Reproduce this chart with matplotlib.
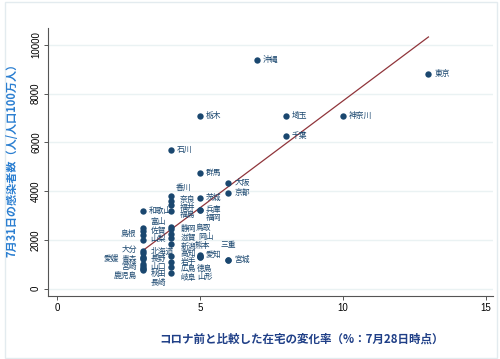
import matplotlib
matplotlib.use("Agg")
import matplotlib.pyplot as plt
from matplotlib.patches import Rectangle

# data
names = ["東京", "神奈川", "埼玉", "千葉", "沖縄",
         "大阪", "京都", "宮城", "三重",
         "栃木", "群馬", "茨城", "兵庫", "福岡", "熊本", "愛知", "徳島", "山形",
         "石川", "香川", "奈良", "福井", "福島", "静岡", "鳥取", "滋賀", "岡山",
         "新潟", "高知", "岩手", "広島", "岐阜",
         "和歌山", "富山", "島根", "佐賀", "山梨", "大分", "北海道", "青森",
         "愛媛", "長野", "宮崎", "山口", "鹿児島", "秋田", "長崎"]
home_change = [13, 10, 8, 8, 7,
               6, 6, 6, 6,
               5, 5, 5, 5, 5, 5, 5, 5, 5,
               4, 4, 4, 4, 4, 4, 4, 4, 4,
               4, 4, 4, 4, 4,
               3, 3, 3, 3, 3, 3, 3, 3,
               3, 3, 3, 3, 3, 3, 3]
cases = [8800, 7100, 7100, 6250, 9400,
         4330, 3920, 1180, 1180,
         7080, 4750, 3730, 3240, 3240, 1400, 1350, 1300, 1300,
         5700, 3800, 3600, 3450, 3200, 2550, 2450, 2250, 2100,
         1850, 1350, 1100, 880, 630,
         3200, 2500, 2350, 2200, 2000, 1550, 1480, 1300,
         1250, 1200, 1000, 950, 850, 800, 780]
# fitted line end points
fit_x = [3, 13]
fit_y = [1560, 10330]

# label placement (pixels: dx, dy up, alignment); default is right of the dot
label_pos = {
    "福岡": (6, -8, "left"), "熊本": (3, 9, "center"), "徳島": (-3, -12, "left"),
    "山形": (-3, -20, "left"), "三重": (0, 15, "center"),
    "香川": (4, 8, "left"), "奈良": (9, 1, "left"), "福井": (9, -3, "left"),
    "福島": (9, -4, "left"), "静岡": (9, -2, "left"), "鳥取": (24, 1, "left"),
    "滋賀": (9, -4, "left"), "岡山": (27, 1, "left"), "新潟": (9, -3, "left"),
    "高知": (9, 2, "left"), "岩手": (9, 0, "left"), "広島": (9, -2, "left"),
    "岐阜": (9, -5, "left"),
    "富山": (8, 6, "left"), "島根": (-7, -3, "right"), "佐賀": (8, 4, "left"),
    "山梨": (8, 1, "left"), "大分": (-6, 1, "right"), "北海道": (8, 1, "left"),
    "青森": (-6, -3, "right"), "愛媛": (-24, -2, "right"), "長野": (8, 0, "left"),
    "宮崎": (-6, -3, "right"), "山口": (8, -1, "left"), "鹿児島": (-6, -8, "right"),
    "秋田": (8, -5, "left"), "長崎": (8, -13, "left"),
}

navy = "#1a476f"
jp = ["Noto Sans CJK JP", "DejaVu Sans"]

fig = plt.figure(figsize=(5, 3.59), dpi=100)
ax = fig.add_axes([0.096, 0.175, 0.89, 0.747])

ax.plot(fit_x, fit_y, color="#90353b", lw=0.9, zorder=2)
ax.scatter(home_change, cases, s=21, color=navy, zorder=3, linewidths=0)

for n, x, y in zip(names, home_change, cases):
    dx, dy, ha = label_pos.get(n, (6, 0, "left"))
    ax.annotate(n, (x, y), xytext=(dx * 0.72, dy * 0.72), textcoords="offset points",
                ha=ha, va="center", fontsize=5.6, color=navy, family=jp, zorder=4)

ax.set_xlim(-0.315, 15.26)
ax.set_ylim(-308, 10698)
ax.set_xticks([0, 5, 10, 15])
ax.set_yticks([0, 2000, 4000, 6000, 8000, 10000])
ax.grid(axis="y", color="#eaf2f3", lw=1)
ax.set_axisbelow(True)
for s in ["top", "right"]:
    ax.spines[s].set_visible(False)
for s in ["left", "bottom"]:
    ax.spines[s].set_color("#555555")
    ax.spines[s].set_linewidth(0.8)
ax.tick_params(length=3, width=0.7, color="#555555", labelsize=7, pad=2)
for t in ax.get_xticklabels() + ax.get_yticklabels():
    t.set_family("Liberation Sans")
for t in ax.get_yticklabels():
    t.set_rotation(90)
    t.set_va("center")

fig.text(0.024, 1 - 157 / 359, "7月31日の感染者数（人/人口100万人）", rotation=90,
         ha="center", va="center", fontsize=8, fontweight="bold",
         color="#2b7fd1", family=jp)
fig.text(0.604, 1 - 339 / 359, "コロナ前と比較した在宅の変化率（%：7月28日時点）",
         ha="center", va="center", fontsize=8.3, fontweight="bold",
         color="#1f3f87", family=jp)

fig.add_artist(Rectangle((0.01, 0.004), 0.984, 0.99, transform=fig.transFigure,
                         fill=False, ec="#e3ebef", lw=1))

fig.savefig("out.png", dpi=100)
